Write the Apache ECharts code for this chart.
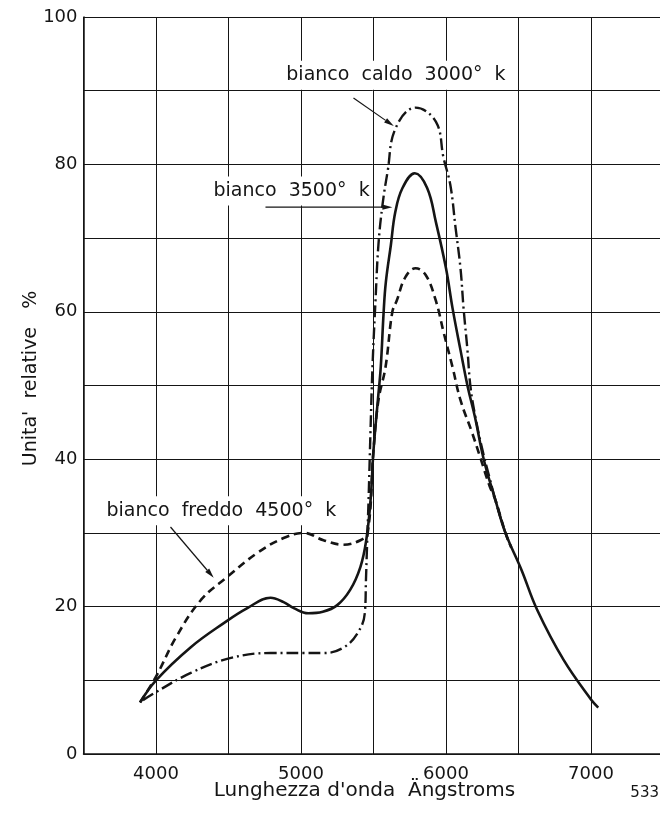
<!DOCTYPE html>
<html>
<head>
<meta charset="utf-8">
<script src="https://cdn.jsdelivr.net/npm/echarts@6/dist/echarts.min.js"></script>
<style>
  html, body { margin: 0; padding: 0; background: #ffffff; }
  #chart { width: 660px; height: 815px; }
</style>
</head>
<body>
<div id="chart"></div>
<script>
// ---- Data ----
var seriesNames = ['bianco 3500° k', 'bianco freddo 4500° k', 'bianco caldo 3000° k'];

var whiteX = [3890, 4000, 4240, 4470, 4630, 4790, 4880, 4950, 5050, 5150, 5250, 5340, 5410, 5450, 5480, 5500, 5530, 5550, 5570, 5585, 5620, 5650, 5700, 5785, 5870, 5930, 6000, 6045, 6100, 6150, 6200, 6260, 6340, 6410, 6520, 6630, 6810, 7000, 7050];
var whiteY = [7.0, 10.0, 14.5, 17.8, 19.8, 21.2, 20.6, 19.8, 19.1, 19.3, 20.2, 22.3, 25.4, 29.0, 34.5, 41.2, 48.0, 52.5, 60.0, 64.0, 69.1, 73.5, 76.8, 78.8, 76.8, 72.2, 65.9, 60.5, 54.8, 49.8, 45.7, 40.0, 34.5, 30.0, 25.0, 19.5, 12.8, 7.4, 6.3];

var coolX = [3890, 4000, 4140, 4310, 4490, 4700, 4880, 5020, 5155, 5290, 5410, 5460, 5500, 5534, 5583, 5630, 5660, 5720, 5790, 5860, 5930, 5985, 6045, 6100, 6180, 6240, 6300, 6340, 6410, 6450];
var coolY = [7.0, 10.5, 15.9, 20.9, 24.0, 27.3, 29.3, 30.0, 29.0, 28.4, 29.0, 30.0, 41.2, 48.0, 52.5, 60.0, 61.5, 64.7, 65.9, 65.0, 61.5, 57.1, 52.5, 48.0, 43.6, 40.0, 36.4, 34.5, 30.0, 28.0];

var warmX = [3910, 4000, 4240, 4510, 4790, 5020, 5155, 5290, 5390, 5440, 5448, 5455, 5466, 5479, 5493, 5514, 5534, 5562, 5597, 5652, 5790, 5930, 5983, 6030, 6066, 6100, 6121, 6148, 6169, 6203, 6252, 6300, 6340, 6410, 6450];
var warmY = [7.3, 8.4, 11.0, 13.0, 13.7, 13.7, 13.7, 14.4, 16.4, 19.1, 23.6, 28.0, 34.5, 43.6, 52.5, 61.6, 69.1, 74.5, 79.0, 84.9, 87.7, 85.8, 80.9, 77.2, 71.4, 65.9, 60.5, 54.8, 49.8, 45.7, 41.2, 37.5, 34.5, 30.0, 28.0];

var xTickLabels = [4000, 5000, 6000, 7000];
var yTickLabels = [0, 20, 40, 60, 80, 100];

var xTitle = "Lunghezza d'onda  Ängstroms";
var yTitle = "Unita'  relative   %";
var figNumber = '533';

// annotation texts (label strings) and their anchors in data units
var annoLabels = ['bianco  caldo  3000°  k', 'bianco  3500°  k', 'bianco  freddo  4500°  k'];
var annoLayout = [
  { text: [4878, 92.1], from: [5362, 89.0], to: [5640, 85.2] },
  { text: [4376, 76.4], from: [4755, 74.2], to: [5630, 74.2] },
  { text: [3638, 33.0], from: [4100, 30.8], to: [4398, 23.9] }
];

function zip(xs, ys) { return xs.map(function (x, i) { return [x, ys[i]]; }); }

var INK = '#151515';
var FONT = 'DejaVu Sans';

var chart = echarts.init(document.getElementById('chart'), null, { renderer: 'canvas' });

var option = {
  backgroundColor: '#ffffff',
  animation: false,
  grid: { left: 83.5, width: 580, top: 17, bottom: 61, containLabel: false, outerBoundsMode: 'none' },
  xAxis: {
    type: 'value', min: 3500, max: 7500, interval: 500,
    axisLine: { show: true, lineStyle: { color: INK, width: 1.5 } },
    axisTick: { show: false },
    splitLine: { show: true, lineStyle: { color: INK, width: 1 } },
    axisLabel: {
      color: INK, fontFamily: FONT, fontSize: 18, margin: 11,
      showMinLabel: true, showMaxLabel: true,
      formatter: function (v) { return xTickLabels.indexOf(v) >= 0 ? String(v) : ''; }
    },
    name: xTitle, nameLocation: 'middle', nameGap: 27, nameMoveOverlap: false,
    nameTextStyle: { color: INK, fontFamily: FONT, fontSize: 20, padding: [0, 18, 0, 0] }
  },
  yAxis: {
    type: 'value', min: 0, max: 100, interval: 10,
    axisLine: { show: true, lineStyle: { color: INK, width: 1.5 } },
    axisTick: { show: false },
    splitLine: { show: true, lineStyle: { color: INK, width: 1 } },
    axisLabel: {
      color: INK, fontFamily: FONT, fontSize: 18, margin: 6,
      showMinLabel: true, showMaxLabel: true,
      formatter: function (v) { return yTickLabels.indexOf(v) >= 0 ? String(v) : ''; }
    },
    name: yTitle, nameLocation: 'middle', nameGap: 43, nameRotate: 90, nameMoveOverlap: false,
    nameTextStyle: { color: INK, fontFamily: FONT, fontSize: 19, padding: [0, 0, 0, 14] }
  },
  series: [
    {
      name: seriesNames[0], type: 'line', data: zip(whiteX, whiteY),
      showSymbol: false, smooth: 0.4, z: 4,
      lineStyle: { color: INK, width: 2.6, type: 'solid' }
    },
    {
      name: seriesNames[1], type: 'line', data: zip(coolX, coolY),
      showSymbol: false, smooth: 0.4, z: 3,
      lineStyle: { color: INK, width: 2.6, type: [8, 5] }
    },
    {
      name: seriesNames[2], type: 'line', data: zip(warmX, warmY),
      showSymbol: false, smooth: 0.4, z: 3,
      lineStyle: { color: INK, width: 2.4, type: [12, 4, 2, 4] }
    }
  ]
};

chart.setOption(option);

function px(p) { return chart.convertToPixel({ gridIndex: 0 }, p); }

function arrow(a, b) {
  var p1 = px(a), p2 = px(b);
  var dx = p2[0] - p1[0], dy = p2[1] - p1[1];
  var len = Math.sqrt(dx * dx + dy * dy);
  var ux = dx / len, uy = dy / len;
  var L = 10, W = 2.6;
  var bx = p2[0] - ux * L, by = p2[1] - uy * L;
  return [
    { type: 'line', z: 20, shape: { x1: p1[0], y1: p1[1], x2: bx, y2: by },
      style: { stroke: INK, lineWidth: 1.2 } },
    { type: 'polygon', z: 20, shape: { points: [[p2[0], p2[1]], [bx - uy * W, by + ux * W], [bx + uy * W, by - ux * W]] },
      style: { fill: INK } }
  ];
}

var graphics = [];
annoLayout.forEach(function (a, i) {
  var t = px(a.text);
  graphics.push({
    type: 'text', z: 15, x: t[0], y: t[1],
    style: {
      text: annoLabels[i], fill: INK, font: '19px "' + FONT + '"',
      textAlign: 'left', textVerticalAlign: 'middle',
      backgroundColor: '#ffffff', padding: [5, 3, 5, 3]
    }
  });
  graphics = graphics.concat(arrow(a.from, a.to));
});
graphics.push({
  type: 'text', z: 15, x: 659, y: 793,
  style: { text: figNumber, fill: INK, font: '15px "' + FONT + '"', textAlign: 'right', textVerticalAlign: 'middle' }
});

chart.setOption({ graphic: graphics });
</script>
</body>
</html>
